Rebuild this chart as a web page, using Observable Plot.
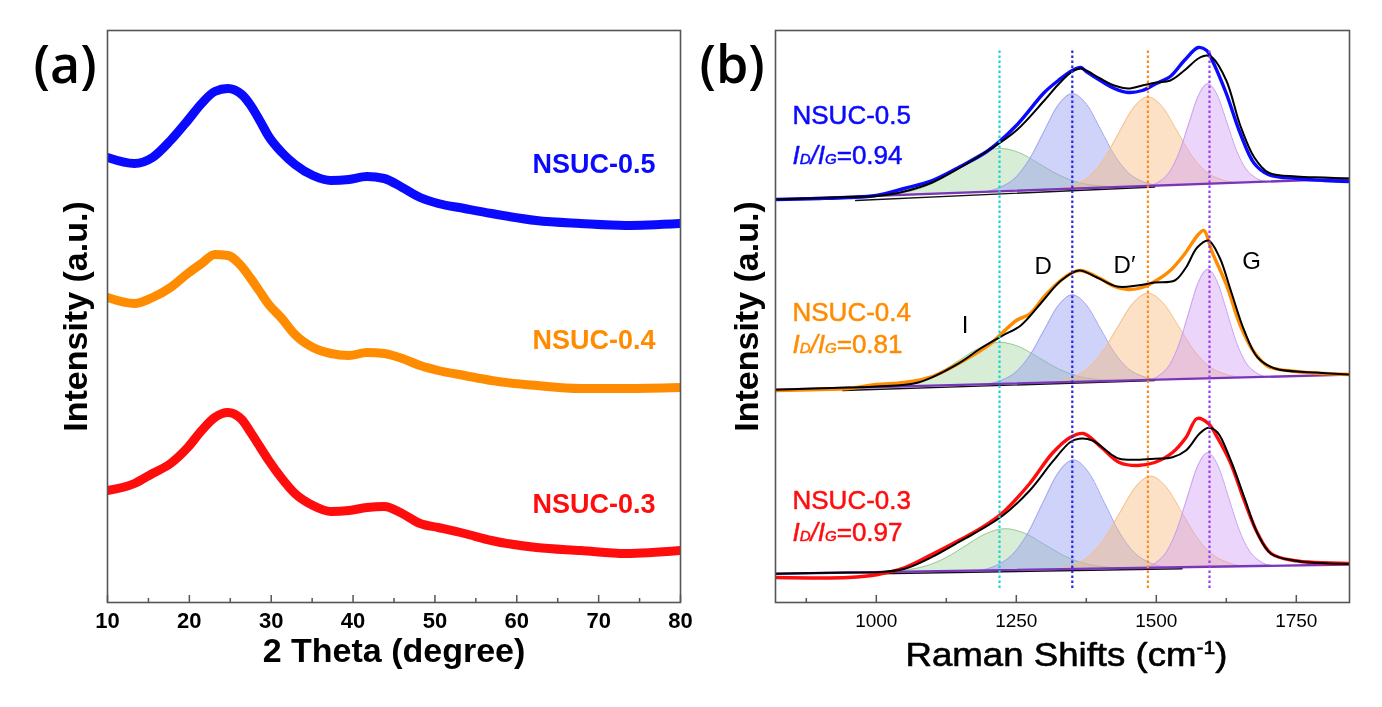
<!DOCTYPE html>
<html><head><meta charset="utf-8">
<script src="https://cdn.jsdelivr.net/npm/d3@7"></script>
<script src="https://cdn.jsdelivr.net/npm/@observablehq/plot@0.6"></script>
<style>
body{margin:0;background:#fff;}
#fig{position:relative;width:1382px;height:707px;overflow:hidden;background:#fff;}
#fig svg{position:absolute;top:0;}
</style></head><body><div id="fig"></div>
<script>
// ---------- Panel (a): XRD (intensity in a.u.) ----------
const sampleNames = ["NSUC-0.5", "NSUC-0.4", "NSUC-0.3"];
const sampleColors = ["#0a0aff", "#ff8c00", "#ff0d0d"];
const xrdTheta = [10,13.3,15.5,17.7,19.8,21.5,23.1,24.7,26.4,27.5,28.6,29.7,31.3,32.9,35.1,37.3,39.5,41.7,43.8,46.0,48.2,50.4,53.6,56.9,62.4,67.8,73.3,80];
const xrd05 = [445,439,445,462,482,499,511,514,508,497,482,466,450,438,427,422,423,426,424,415,405,399,394,389,382,379,377,379];
const xrd04 = [305,299,305,315,329,339,348,347,336,324,311,298,284,268,255,249,247,250,249,244,237,232,227,222,217,214,214,215];
const xrd03 = [112,119,129,139,155,172,185,190,183,170,156,142,124,109,97,91,92,95,96,89,79,75,69,62,55,52,49,52];
const thetaMajor = [10,20,30,40,50,60,70,80];
const thetaMinor = [15,25,35,45,55,65,75];

// ---------- Panel (b): Raman ----------
const ramanMajor = [1000,1250,1500,1750];
const ramanMinor = [875,1125,1375,1625];
const idig = ["0.94", "0.81", "0.97"];
const peakNames = ["I", "D", "D′", "G"];
const peakLinePos = [1220, 1350, 1485, 1595];
const peakLineColors = ["#1fd3d3", "#2626e8", "#ff8a1c", "#9a3cf0"];
const peakFill = ["#9fd39a", "#8e96f0", "#f7b877", "#cf9cf2"];
const peakEdge = ["#9ccc9c", "#a2a6ee", "#f5c08a", "#c9a0ee"];

// measured spectra
const r05x = [820,900,950,1000,1050,1100,1150,1200,1250,1300,1325,1350,1365,1375,1400,1425,1450,1475,1500,1525,1550,1575,1590,1600,1625,1650,1675,1700,1750,1800,1845];
const r05y = [403,404,405,407,414,422,436,452,477,510,522,532,535,531,522,514,510,512,519,526,542,555,552,542,509,469,439,428,424,422,421];
const r04x = [820,900,950,1000,1050,1100,1150,1200,1250,1275,1300,1325,1350,1365,1400,1425,1450,1475,1500,1525,1550,1575,1585,1600,1625,1650,1675,1700,1750,1800,1845];
const r04y = [212,213,214,218,220,226,240,257,282,289,306,320,330,332,324,316,313,315,322,332,348,368,372,350,318,277,250,236,231,229,228];
const r03x = [820,950,1003,1051,1099,1147,1186,1226,1274,1314,1346,1370,1402,1434,1466,1497,1529,1553,1573,1593,1609,1633,1657,1681,1705,1745,1845];
const r03y = [25,25,28,35,48,62,74,90,119,149,165,169,155,140,137,140,150,165,184,179,165,139,102,69,49,42,39];

// cumulative fits
const f05x = [820,950,1000,1050,1100,1150,1200,1250,1300,1325,1350,1365,1375,1400,1425,1450,1475,1500,1525,1550,1575,1590,1600,1625,1650,1675,1700,1750,1800,1845];
const f05y = [403,405.5,406.5,411,420,435,452,472,502,518,531,534,532,524,517,514,517,520,522,532,544,547,545,522,477,445,430,426,425,424];
const f04x = [820,950,1000,1075,1147,1186,1226,1258,1298,1330,1362,1394,1430,1466,1497,1533,1553,1573,1593,1613,1633,1657,1681,1712,1785,1845];
const f04y = [212.7,215,216,220,239,254,267,277,302,322,332,325,316,317,320,322,335,355,362,345,312,272,245,234,230,228];
const f03x = [820,950,1003,1051,1099,1147,1179,1226,1274,1314,1346,1362,1386,1418,1434,1466,1497,1529,1553,1577,1593,1609,1633,1657,1681,1705,1745,1845];
const f03y = [28.7,30,30.3,33.7,45.3,60.3,70.3,87,112,140.3,160.3,163.7,162,148.7,143.7,142.7,143.7,145.3,152,168.7,174.7,170.3,142,105.3,68.7,48.7,42,38.5];

// baselines (end points) and fit baselines
const baseX = [820, 1850];
const base05 = [403, 424];
const base04 = [212.7, 228];
const base03 = [28.7, 38];
const fb05x = [963, 1497], fb05y = [402, 415.5];
const fb04x = [940, 1497], fb04y = [212, 222];
const fb03x = [1003, 1546], fb03y = [28.7, 33.7];

// fitted components: positions and heights above baseline (I, D, D', G)
const peakX05 = [
 [1007,1042.5,1078,1113.5,1149,1184.5,1220,1255.5,1291,1326.5,1362,1397.5,1433],
 [1197,1222.5,1248,1273.5,1299,1324.5,1350,1375.5,1401,1426.5,1452,1477.5,1503],
 [1329,1355,1381,1407,1433,1459,1485,1511,1537,1563,1589,1615,1641],
 [1490,1507,1524,1541,1558,1575,1592,1609,1626,1643,1660,1677,1694]];
const peakH05 = [
 [0,1.9,5.8,14.0,26.1,37.9,43,37.9,26.1,14.0,5.8,1.9,0],
 [0,4.2,12.8,30.9,57.7,83.8,95,83.8,57.7,30.9,12.8,4.2,0],
 [0,3.9,12.0,28.9,54.0,78.5,89,78.5,54.0,28.9,12.0,3.9,0],
 [0,4.4,13.5,32.5,60.7,88.2,100,88.2,60.7,32.5,13.5,4.4,0]];
const peakX04 = [
 [1010,1045,1080,1115,1150,1185,1220,1255,1290,1325,1360,1395,1430],
 [1200,1225,1250,1275,1300,1325,1350,1375,1400,1425,1450,1475,1500],
 [1320,1347.5,1375,1402.5,1430,1457.5,1485,1512.5,1540,1567.5,1595,1622.5,1650],
 [1490,1507,1524,1541,1558,1575,1592,1609,1626,1643,1660,1677,1694]];
const peakH04 = [
 [0,1.8,5.6,13.5,25.2,36.6,41.5,36.6,25.2,13.5,5.6,1.8,0],
 [0,3.8,11.7,28.3,52.8,76.7,87,76.7,52.8,28.3,11.7,3.8,0],
 [0,3.8,11.7,28.1,52.6,76.4,86.6,76.4,52.6,28.1,11.7,3.8,0],
 [0,4.8,14.7,35.4,66.2,96.1,109,96.1,66.2,35.4,14.7,4.8,0]];
const peakX03 = [
 [1020,1055,1090,1125,1160,1195,1230,1265,1300,1335,1370,1405,1440],
 [1187,1214.5,1242,1269.5,1297,1324.5,1352,1379.5,1407,1434.5,1462,1489.5,1517],
 [1325,1352.5,1380,1407.5,1435,1462.5,1490,1517.5,1545,1572.5,1600,1627.5,1655],
 [1481,1499.5,1518,1536.5,1555,1573.5,1592,1610.5,1629,1647.5,1666,1684.5,1703]];
const peakH03 = [
 [0,1.8,5.6,13.5,25.1,36.5,41.4,36.5,25.1,13.5,5.6,1.8,0],
 [0,4.8,14.7,35.4,66.2,96.1,109,96.1,66.2,35.4,14.7,4.8,0],
 [0,4.0,12.4,29.7,55.5,80.7,91.5,80.7,55.5,29.7,12.4,4.0,0],
 [0,5.0,15.4,37.1,69.2,100.5,114,100.5,69.2,37.1,15.4,5.0,0]];

// ---------- helpers ----------
const SANS = "Liberation Sans, Arial, Helvetica, sans-serif";
const zipXY = (xs, ys) => xs.map((x, i) => ({x, y: ys[i]}));
const lab = (t, o) => Plot.text([t], {
  text: d => d, frameAnchor: o.fa, dx: o.dx, dy: o.dy,
  textAnchor: o.ta || "start", lineAnchor: "bottom",
  fontSize: o.fs, fontWeight: o.fw || "normal", fill: o.c || "#000",
  fontFamily: o.ff || SANS, rotate: o.r || 0,
  stroke: o.sw ? (o.c || "#000") : undefined, strokeWidth: o.sw || undefined
});

const fig = document.getElementById("fig");

// ---------- Panel (a) ----------
const xrdSeries = [xrd05, xrd04, xrd03];
const plotA = Plot.plot({
  width: 690, height: 707,
  marginLeft: 107, marginRight: 10, marginTop: 30, marginBottom: 105,
  style: {fontFamily: SANS, background: "transparent", overflow: "visible"},
  x: {domain: [10, 80]},
  y: {domain: [0, 572], axis: null},
  marks: [
    ...xrdSeries.map((s, k) => Plot.line(zipXY(xrdTheta, s), {
      x: "x", y: "y", stroke: sampleColors[k], strokeWidth: 9,
      curve: "monotone-x", clip: true, strokeLinejoin: "round"
    })),
    Plot.ruleX(thetaMajor, {x: d => d, y1: 0, y2: 7, stroke: "#555", strokeWidth: 1.5}),
    Plot.ruleX(thetaMinor, {x: d => d, y1: 0, y2: 4, stroke: "#555", strokeWidth: 1.5}),
    Plot.axisX({ticks: thetaMajor, tickSize: 0, tickPadding: 10, fontSize: 22, fontWeight: "bold",
      tickFormat: d => String(d), label: null}),
    Plot.frame({stroke: "#555", strokeWidth: 1.6}),
    lab("(a)", {fa: "top-left", dx: -74, dy: 52, fs: 52, fw: 600, ff: "Open Sans, Noto Sans, sans-serif"}),
    lab(sampleNames[0], {fa: "top-right", dx: -25, dy: 142, ta: "end", fs: 27, fw: "bold", c: sampleColors[0]}),
    lab(sampleNames[1], {fa: "top-right", dx: -25, dy: 318, ta: "end", fs: 27, fw: "bold", c: sampleColors[1]}),
    lab(sampleNames[2], {fa: "top-right", dx: -25, dy: 482, ta: "end", fs: 27, fw: "bold", c: sampleColors[2]}),
    lab("2 Theta (degree)", {fa: "bottom", dx: 0, dy: 59, ta: "middle", fs: 34, fw: "bold"}),
    lab("Intensity (a.u.)", {fa: "left", dx: -21, dy: 0, ta: "middle", fs: 34, fw: "bold", r: -90})
  ]
});
plotA.style.left = "0px";
fig.appendChild(plotA);

// ---------- Panel (b) ----------
const spectra = [
  {dx: r05x, dy: r05y, fx: f05x, fy: f05y, base: base05, fbx: fb05x, fby: fb05y, px: peakX05, ph: peakH05},
  {dx: r04x, dy: r04y, fx: f04x, fy: f04y, base: base04, fbx: fb04x, fby: fb04y, px: peakX04, ph: peakH04},
  {dx: r03x, dy: r03y, fx: f03x, fy: f03y, base: base03, fbx: fb03x, fby: fb03y, px: peakX03, ph: peakH03}
];
const marksB = [];
spectra.forEach((s, k) => {
  const bl = d3.scaleLinear().domain(baseX).range(s.base);
  s.px.forEach((xs, j) => {
    const rows = xs.map((x, i) => ({x, y1: bl(x), y2: bl(x) + s.ph[j][i]}));
    marksB.push(Plot.areaY(rows, {x: "x", y1: "y1", y2: "y2", fill: peakFill[j], fillOpacity: 0.42,
      curve: "monotone-x", mixBlendMode: "multiply", clip: true}));
    marksB.push(Plot.line(rows, {x: "x", y: "y2", stroke: peakEdge[j], strokeWidth: 1,
      curve: "monotone-x", clip: true}));
  });
  marksB.push(Plot.line(zipXY(s.fbx, s.fby), {x: "x", y: "y", stroke: "#111", strokeWidth: 1.4, clip: true}));
  marksB.push(Plot.line(zipXY(baseX, s.base), {x: "x", y: "y", stroke: "#7a35b8", strokeWidth: 2.4, clip: true}));
  marksB.push(Plot.line(zipXY(s.dx, s.dy), {x: "x", y: "y", stroke: sampleColors[k], strokeWidth: 3.4,
    curve: "catmull-rom", clip: true}));
  marksB.push(Plot.line(zipXY(s.fx, s.fy), {x: "x", y: "y", stroke: "#000", strokeWidth: 2,
    curve: "catmull-rom", clip: true}));
});
marksB.push(Plot.ruleX(peakLinePos, {x: d => d, y1: 14, y2: 554, stroke: (d, i) => peakLineColors[i],
  strokeWidth: 2.2, strokeDasharray: "2.5,2.5"}));
marksB.push(
  Plot.ruleX(ramanMajor, {x: d => d, y1: 0, y2: 7, stroke: "#555", strokeWidth: 1.5}),
  Plot.ruleX(ramanMinor, {x: d => d, y1: 0, y2: 4, stroke: "#555", strokeWidth: 1.5}),
  Plot.axisX({ticks: ramanMajor, tickSize: 0, tickPadding: 11, fontSize: 19,
    tickFormat: d => String(d), label: null}),
  Plot.frame({stroke: "#555", strokeWidth: 1.6}),
  lab("(b)", {fa: "top-left", dx: -76, dy: 52, fs: 52, fw: 600, ff: "Open Sans, Noto Sans, sans-serif"}),
  lab(sampleNames[0], {fa: "top-left", dx: 17, dy: 93, fs: 26, c: sampleColors[0], sw: 0.5}),
  lab("ID/IG=" + idig[0], {fa: "top-left", dx: 17, dy: 133, fs: 26, c: sampleColors[0], sw: 0.5}),
  lab(sampleNames[1], {fa: "top-left", dx: 17, dy: 290, fs: 26, c: sampleColors[1], sw: 0.5}),
  lab("ID/IG=" + idig[1], {fa: "top-left", dx: 17, dy: 322, fs: 26, c: sampleColors[1], sw: 0.5}),
  lab(sampleNames[2], {fa: "top-left", dx: 17, dy: 478, fs: 26, c: sampleColors[2], sw: 0.5}),
  lab("ID/IG=" + idig[2], {fa: "top-left", dx: 17, dy: 510, fs: 26, c: sampleColors[2], sw: 0.5}),
  lab(peakNames[0], {fa: "top-left", dx: 189.5, dy: 302, ta: "middle", fs: 24}),
  lab(peakNames[1], {fa: "top-left", dx: 267.7, dy: 243, ta: "middle", fs: 24}),
  lab(peakNames[2], {fa: "top-left", dx: 349, dy: 242, ta: "middle", fs: 24}),
  lab(peakNames[3], {fa: "top-left", dx: 476, dy: 238, ta: "middle", fs: 24}),
  lab("Raman Shifts (cm-1)", {fa: "bottom", dx: 4, dy: 63, ta: "middle", fs: 33, sw: 0.6}),
  lab("Intensity (a.u.)", {fa: "left", dx: -18, dy: 0, ta: "middle", fs: 34, fw: "bold", r: -90})
);
const plotB = Plot.plot({
  width: 692, height: 707,
  marginLeft: 85, marginRight: 33, marginTop: 30, marginBottom: 105,
  style: {fontFamily: SANS, background: "transparent", overflow: "visible"},
  x: {domain: [820, 1845]},
  y: {domain: [0, 572], axis: null},
  marks: marksB
});
plotB.style.left = "690px";
fig.appendChild(plotB);

// rich text: italic I_D / I_G and superscript cm-1
d3.select(plotB).selectAll("text").each(function () {
  const txt = this.textContent;
  const m = /^ID\/IG=(.*)$/.exec(txt);
  const t = d3.select(this);
  if (m) {
    t.text(null);
    t.append("tspan").attr("font-style", "italic").text("I");
    t.append("tspan").attr("font-style", "italic").attr("font-size", "15px").text("D");
    t.append("tspan").attr("font-style", "italic").text("/I");
    t.append("tspan").attr("font-style", "italic").attr("font-size", "15px").text("G");
    t.append("tspan").text("=" + m[1]);
  } else if (txt === "Raman Shifts (cm-1)") {
    t.text(null);
    t.append("tspan").text("Raman Shifts (cm");
    t.append("tspan").attr("font-size", "19px").attr("dy", "-12").text("-1");
    t.append("tspan").attr("dy", "12").text(")");
    t.attr("textLength", 322).attr("lengthAdjust", "spacingAndGlyphs");
  }
});
</script>
</body></html>
